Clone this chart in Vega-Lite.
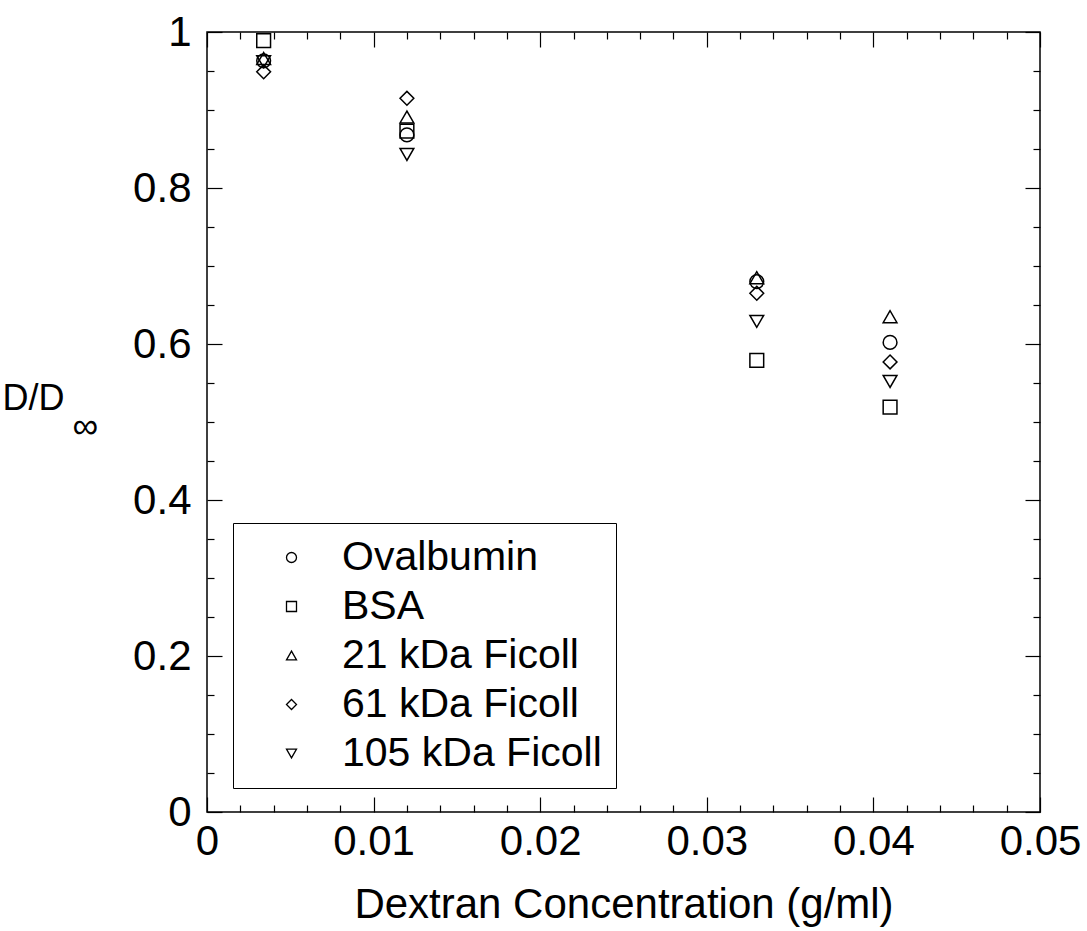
{
  "$schema": "https://vega.github.io/schema/vega-lite/v6.json",
  "autosize": "none",
  "width": 833,
  "height": 780,
  "padding": {"left": 207, "top": 32, "right": 47, "bottom": 119},
  "background": "white",
  "config": {
    "font": "Liberation Sans",
    "view": {"stroke": "black", "strokeWidth": 1.5},
    "axis": {"grid": false, "domain": false, "labelFlush": false, "tickColor": "black", "tickWidth": 1.2, "labelColor": "black", "titleColor": "black", "labelFont": "Liberation Sans", "titleFont": "Liberation Sans", "titleFontWeight": "normal", "labelFontSize": 42, "titleFontSize": 42}
  },
  "data": {"values": [
    {"conc": 0.0034, "D": 0.963, "solute": "Ovalbumin"},
    {"conc": 0.0034, "D": 0.989, "solute": "BSA"},
    {"conc": 0.0034, "D": 0.966, "solute": "21 kDa Ficoll"},
    {"conc": 0.0034, "D": 0.949, "solute": "61 kDa Ficoll"},
    {"conc": 0.0034, "D": 0.962, "solute": "105 kDa Ficoll"},
    {"conc": 0.012, "D": 0.868, "solute": "Ovalbumin"},
    {"conc": 0.012, "D": 0.873, "solute": "BSA"},
    {"conc": 0.012, "D": 0.891, "solute": "21 kDa Ficoll"},
    {"conc": 0.012, "D": 0.915, "solute": "61 kDa Ficoll"},
    {"conc": 0.012, "D": 0.843, "solute": "105 kDa Ficoll"},
    {"conc": 0.033, "D": 0.680, "solute": "Ovalbumin"},
    {"conc": 0.033, "D": 0.579, "solute": "BSA"},
    {"conc": 0.033, "D": 0.685, "solute": "21 kDa Ficoll"},
    {"conc": 0.033, "D": 0.665, "solute": "61 kDa Ficoll"},
    {"conc": 0.033, "D": 0.629, "solute": "105 kDa Ficoll"},
    {"conc": 0.041, "D": 0.602, "solute": "Ovalbumin"},
    {"conc": 0.041, "D": 0.519, "solute": "BSA"},
    {"conc": 0.041, "D": 0.635, "solute": "21 kDa Ficoll"},
    {"conc": 0.041, "D": 0.577, "solute": "61 kDa Ficoll"},
    {"conc": 0.041, "D": 0.552, "solute": "105 kDa Ficoll"}
  ]},
  "resolve": {"axis": {"x": "independent", "y": "independent"}},
  "layer": [
    {
      "mark": {"type": "point", "opacity": 0},
      "encoding": {
        "x": {"field": "conc", "type": "quantitative", "scale": {"domain": [0, 0.05], "nice": false},
          "axis": {"orient": "top", "title": null, "labels": false,
            "values": [0,0.002,0.004,0.006,0.008,0.01,0.012,0.014,0.016,0.018,0.02,0.022,0.024,0.026,0.028,0.03,0.032,0.034,0.036,0.038,0.04,0.042,0.044,0.046,0.048,0.05],
            "tickSize": {"condition": {"test": "abs(datum.value*100 - round(datum.value*100)) < 1e-6", "value": -15}, "value": -7}}},
        "y": {"field": "D", "type": "quantitative", "scale": {"domain": [0, 1], "nice": false},
          "axis": {"orient": "right", "title": null, "labels": false,
            "values": [0,0.05,0.1,0.15,0.2,0.25,0.3,0.35,0.4,0.45,0.5,0.55,0.6,0.65,0.7,0.75,0.8,0.85,0.9,0.95,1],
            "tickSize": {"condition": {"test": "abs(datum.value*5 - round(datum.value*5)) < 1e-6", "value": -15}, "value": -7}}}
      }
    },
    {
      "mark": {"type": "point", "filled": false, "color": "black", "strokeWidth": 1.5, "size": 190, "opacity": 1},
      "encoding": {
        "x": {"field": "conc", "type": "quantitative", "scale": {"domain": [0, 0.05], "nice": false},
          "axis": {"orient": "bottom", "title": "Dextran Concentration (g/ml)", "titlePadding": 22, "labelPadding": 24,
            "values": [0,0.002,0.004,0.006,0.008,0.01,0.012,0.014,0.016,0.018,0.02,0.022,0.024,0.026,0.028,0.03,0.032,0.034,0.036,0.038,0.04,0.042,0.044,0.046,0.048,0.05],
            "labelExpr": "abs(datum.value*100 - round(datum.value*100)) < 1e-6 ? (datum.value == 0 ? '0' : format(datum.value, '.2f')) : ''",
            "tickSize": {"condition": {"test": "abs(datum.value*100 - round(datum.value*100)) < 1e-6", "value": -15}, "value": -7}}},
        "y": {"field": "D", "type": "quantitative", "scale": {"domain": [0, 1], "nice": false},
          "axis": {"orient": "left", "title": ["D/D", "\u200b\u00a0\u00a0\u00a0\u00a0\u00a0\u00a0\u00a0∞"], "titleFontSize": 36, "titleLineHeight": 28, "titleAngle": 0, "titleAlign": "left", "titleBaseline": "middle", "titleX": -205, "titleY": 366, "labelPadding": 31,
            "values": [0,0.05,0.1,0.15,0.2,0.25,0.3,0.35,0.4,0.45,0.5,0.55,0.6,0.65,0.7,0.75,0.8,0.85,0.9,0.95,1],
            "labelExpr": "abs(datum.value*5 - round(datum.value*5)) < 1e-6 ? (datum.value == 0 ? '0' : datum.value == 1 ? '1' : format(datum.value, '.1f')) : ''",
            "tickSize": {"condition": {"test": "abs(datum.value*5 - round(datum.value*5)) < 1e-6", "value": -15}, "value": -7}}},
        "shape": {"field": "solute", "type": "nominal",
          "scale": {"domain": ["Ovalbumin", "BSA", "21 kDa Ficoll", "61 kDa Ficoll", "105 kDa Ficoll"], "range": ["circle", "square", "triangle-up", "diamond", "triangle-down"]},
          "legend": {"title": null, "orient": "none", "legendX": 26, "legendY": 491, "fillColor": "white", "strokeColor": "black", "padding": 14, "symbolOffset": 24, "symbolSize": 100, "symbolStrokeColor": "black", "symbolStrokeWidth": 1.3, "symbolFillColor": "white", "labelFontSize": 41, "labelFont": "Liberation Sans", "labelColor": "black", "labelOffset": 30, "rowPadding": 7, "labelLimit": 400}}
      }
    }
  ]
}
